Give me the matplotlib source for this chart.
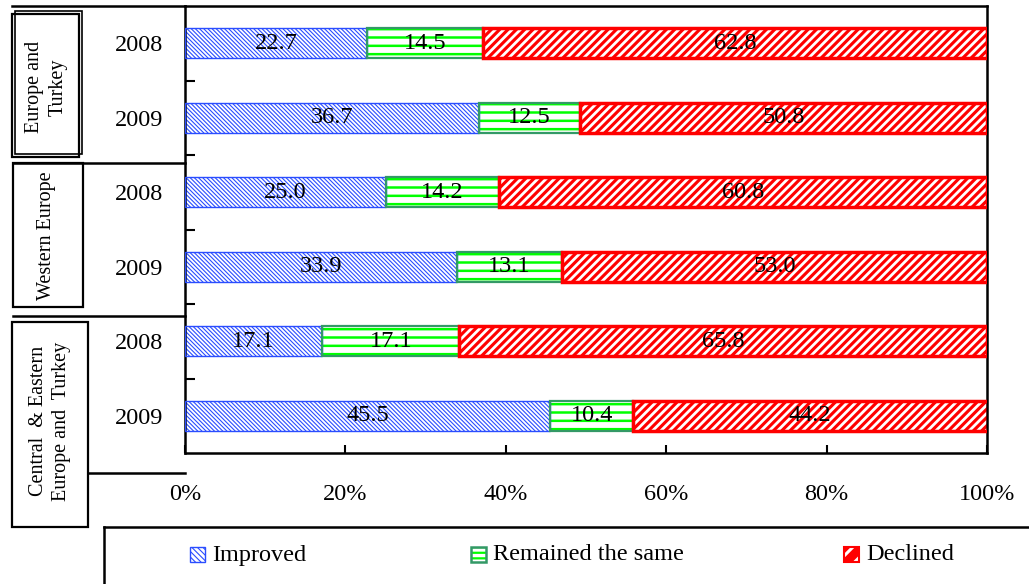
import numpy as np
import matplotlib
matplotlib.use('Agg')
import matplotlib.pyplot as plt
from matplotlib.patches import Rectangle
from matplotlib.lines import Line2D

plt.rcParams['font.family'] = ['Liberation Serif', 'DejaVu Serif']

# rows top to bottom: (region, year)
years = ['2008', '2009', '2008', '2009', '2008', '2009']
regions = ['Europe and\nTurkey', 'Western Europe', 'Central  & Eastern\nEurope and  Turkey']
improved = [22.7, 36.7, 25.0, 33.9, 17.1, 45.5]
same = [14.5, 12.5, 14.2, 13.1, 17.1, 10.4]
declined = [62.8, 50.8, 60.8, 53.0, 65.8, 44.2]
series_names = ['Improved', 'Remained the same', 'Declined']
xticks = [0, 20, 40, 60, 80, 100]

BLUE = '#2a4dff'
GREEN = '#00ff00'
DKGREEN = '#339966'
RED = '#ff0000'

W, H = 1029, 584
fig = plt.figure(figsize=(W / 100, H / 100), dpi=100)


def fx(x):
    return x / W


def fy(y):
    return 1 - y / H


ax = fig.add_axes([fx(185), fy(453), fx(987) - fx(185), fy(6) - fy(453)])

y = np.arange(len(years))
imp = np.array(improved)
sam = np.array(same)
dec = np.array(declined)
bh = 0.4


def hatched(left, width, face, hcol, hatch, hlw, edge, elw):
    with plt.rc_context({'hatch.linewidth': hlw}):
        bars = ax.barh(y, width, left=left, height=bh, color=face,
                       edgecolor=hcol, linewidth=0, hatch=hatch, zorder=2)
    for b in bars:
        if hasattr(b, 'set_hatch_linewidth'):
            b.set_hatch_linewidth(hlw)
    ax.barh(y, width, left=left, height=bh, fill=False, edgecolor=edge,
            linewidth=elw, zorder=3)
    return bars


b1 = hatched(0, imp, 'white', BLUE, '\\' * 8, 0.8, BLUE, 1.0)
b2 = hatched(imp, sam, 'white', GREEN, '--', 1.8, DKGREEN, 1.6)
b3 = hatched(imp + sam, dec, RED, 'white', '////', 2.0, RED, 2.5)

for bars, vals in ((b1, improved), (b2, same), (b3, declined)):
    ax.bar_label(bars, labels=[f'{v:.1f}' for v in vals], label_type='center',
                 fontsize=17.5, color='black', zorder=5)

ax.set_xlim(0, 100)
ax.set_ylim(len(years) - 0.5, -0.5)
ax.set_xticks(xticks)
ax.set_xticklabels([f'{t}%' for t in xticks], fontsize=17.5)
ax.set_yticks(y)
ax.set_yticklabels(years, fontsize=17.5)
ax.set_yticks(np.arange(len(years) - 1) + 0.5, minor=True)
ax.tick_params(axis='y', which='major', length=0, pad=16)
ax.tick_params(axis='y', which='minor', direction='in', length=7, width=1.5)
ax.tick_params(axis='x', direction='in', length=6, width=1.5, pad=22)
for s in ax.spines.values():
    s.set_linewidth(1.8)


def line(x0, y0, x1, y1, lw=1.8):
    fig.add_artist(Line2D([fx(x0), fx(x1)], [fy(y0), fy(y1)], color='black',
                          linewidth=lw, transform=fig.transFigure))


def box(x0, y0, x1, y1, lw=1.6):
    fig.add_artist(Rectangle((fx(x0), fy(y1)), fx(x1) - fx(x0), fy(y0) - fy(y1),
                             fill=False, edgecolor='black', linewidth=lw,
                             transform=fig.transFigure))


# category grouping boxes left of the axis
line(12, 6, 185, 6)
box(15, 11, 82, 154, lw=1.2)
box(12, 14, 79, 157)
line(13, 163, 185, 163)
box(13, 163, 83, 307)
line(13, 316, 185, 316)
box(12, 322, 88, 527)
line(88, 473, 185, 473)

group_centers = [(46, 87), (46, 236), (50, 421)]
for name, (cx, cy) in zip(regions, group_centers):
    fig.text(fx(cx), fy(cy), name, rotation=90, ha='center', va='center',
             fontsize=14.5, linespacing=1.35, multialignment='center')

# legend frame and entries
line(104, 527, 1029, 527)
line(104, 527, 104, 584)
entries = [
    (190, 'white', BLUE, '\\' * 6, 0.8, BLUE, 1.0),
    (471, 'white', GREEN, '---', 1.6, DKGREEN, 1.8),
    (844, RED, 'white', '//', 2.2, RED, 1.5),
]
for (px, face, hcol, hatch, hlw, edge, elw), name in zip(entries, series_names):
    with plt.rc_context({'hatch.linewidth': hlw}):
        p = Rectangle((fx(px), fy(562)), fx(15), fy(547) - fy(562),
                      facecolor=face, edgecolor=hcol, hatch=hatch, linewidth=0,
                      transform=fig.transFigure)
    if hasattr(p, 'set_hatch_linewidth'):
        p.set_hatch_linewidth(hlw)
    fig.add_artist(p)
    fig.add_artist(Rectangle((fx(px), fy(562)), fx(15), fy(547) - fy(562),
                             fill=False, edgecolor=edge, linewidth=elw,
                             transform=fig.transFigure))
    fig.text(fx(px + 22), fy(555), name, ha='left', va='center', fontsize=17.5)

fig.savefig('out.png', dpi=100)
